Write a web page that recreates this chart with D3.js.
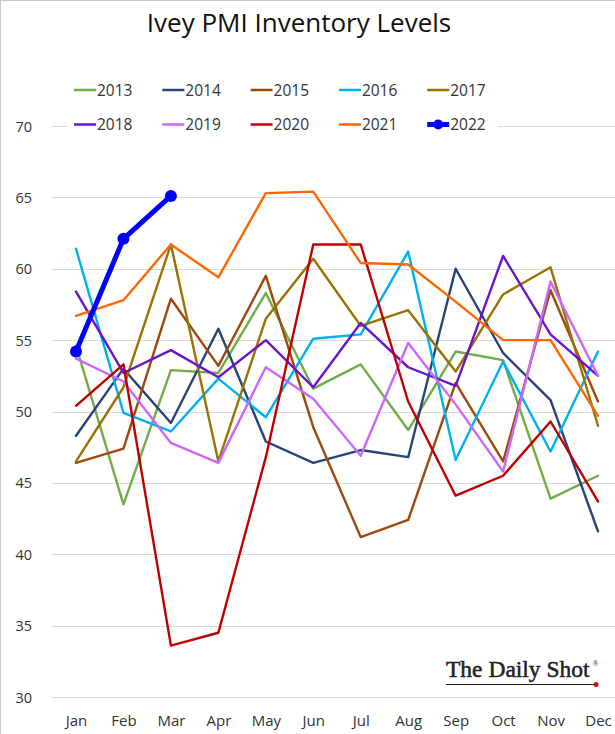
<!DOCTYPE html>
<html>
<head>
<meta charset="utf-8">
<script src="https://cdn.jsdelivr.net/npm/d3@7"></script>
<style>
  html, body { margin: 0; padding: 0; background: #fff; }
  svg { display: block; }
</style>
</head>
<body>
<svg id="chart" width="615" height="734"></svg>
<script>
const months = ["Jan","Feb","Mar","Apr","May","Jun","Jul","Aug","Sep","Oct","Nov","Dec"];
const yTicks = [30, 35, 40, 45, 50, 55, 60, 65, 70];
const years = ["2013","2014","2015","2016","2017","2018","2019","2020","2021","2022"];

const v2013 = [54.6, 43.5, 52.9, 52.7, 58.3, 51.6, 53.3, 48.7, 54.2, 53.6, 43.9, 45.5];
const v2014 = [48.3, 53.0, 49.2, 55.8, 47.9, 46.4, 47.3, 46.8, 60.0, 54.1, 50.8, 41.6];
const v2015 = [46.4, 47.4, 57.9, 53.2, 59.5, 48.9, 41.2, 42.4, 52.0, 46.5, 58.5, 50.7];
const v2016 = [61.4, 49.9, 48.6, 52.3, 49.6, 55.1, 55.4, 61.2, 46.6, 53.5, 47.2, 54.2];
const v2017 = [46.5, 51.7, 61.7, 46.5, 56.5, 60.7, 56.0, 57.1, 52.8, 58.2, 60.1, 49.0];
const v2018 = [58.4, 52.7, 54.3, 52.4, 55.0, 51.7, 56.2, 53.1, 51.8, 60.9, 55.4, 52.5];
const v2019 = [53.7, 52.1, 47.8, 46.4, 53.1, 50.9, 46.9, 54.8, 50.5, 45.8, 59.1, 52.5];
const v2020 = [50.4, 53.3, 33.6, 34.5, 46.8, 61.7, 61.7, 50.7, 44.1, 45.5, 49.3, 43.7];
const v2021 = [56.7, 57.8, 61.7, 59.4, 65.3, 65.4, 60.4, 60.3, 57.7, 55.0, 55.0, 49.7];
const v2022 = [54.2, 62.1, 65.1];

const seriesValues = [v2013, v2014, v2015, v2016, v2017, v2018, v2019, v2020, v2021, v2022];
const colors = ["#70ad47","#264478","#9e480e","#00b0f0","#997300","#6a14cc","#cc66ff","#c00000","#ff6600","#0000ff"];

const svg = d3.select("#chart");

// outer frame (left/top visible)
svg.append("rect").attr("x", 0.5).attr("y", 0.5).attr("width", 640).attr("height", 760)
  .attr("fill", "none").attr("stroke", "#c8c8c8").attr("stroke-width", 1);

const x = d3.scalePoint().domain(months).range([76, 598]);
const y = d3.scaleLinear().domain([30, 70]).range([697, 126]);

// gridlines
svg.append("g").selectAll("line").data(yTicks).join("line")
  .attr("x1", 52).attr("x2", 615)
  .attr("y1", d => Math.round(y(d)) + 0.5).attr("y2", d => Math.round(y(d)) + 0.5)
  .attr("stroke", "#d9d9d9").attr("stroke-width", 1);

// y axis labels
const yAxis = d3.axisLeft(y).tickValues(yTicks).tickSize(0).tickPadding(0);
const gy = svg.append("g").attr("transform", "translate(32,0)").call(yAxis);
gy.select(".domain").remove();
gy.selectAll("text").attr("font-family", "'Open Sans', sans-serif").attr("font-size", 14.5)
  .attr("fill", "#333").attr("dy", "0.35em");

// x axis labels
const xAxis = d3.axisBottom(x).tickSize(0).tickPadding(0);
const gx = svg.append("g").attr("transform", "translate(0,715)").call(xAxis);
gx.select(".domain").remove();
gx.selectAll("text").attr("font-family", "'Open Sans', sans-serif").attr("font-size", 15)
  .attr("fill", "#333").attr("dy", "0.72em");

// lines
const line = d3.line().x((d, i) => x(months[i])).y(d => y(d));
const gl = svg.append("g");
seriesValues.forEach((vals, k) => {
  const is22 = years[k] === "2022";
  gl.append("path").datum(vals).attr("d", line)
    .attr("fill", "none").attr("stroke", colors[k])
    .attr("stroke-width", is22 ? 5 : 2.4)
    .attr("stroke-linejoin", "round").attr("stroke-linecap", "round");
  if (is22) {
    gl.selectAll(null).data(vals).join("circle")
      .attr("cx", (d, i) => x(months[i])).attr("cy", d => y(d)).attr("r", 6)
      .attr("fill", colors[k]);
  }
});

// legend
const lg = svg.append("g");
lg.append("rect").attr("x", 68).attr("y", 74).attr("width", 430).attr("height", 66).attr("fill", "#fff");
years.forEach((yr, k) => {
  const col = k % 5, row = Math.floor(k / 5);
  const lx = 74 + col * 88.3, ly = row === 0 ? 90 : 124.5;
  const is22 = yr === "2022";
  lg.append("line").attr("x1", lx).attr("x2", lx + 22).attr("y1", ly).attr("y2", ly)
    .attr("stroke", colors[k]).attr("stroke-width", is22 ? 5 : 2.5);
  if (is22) lg.append("circle").attr("cx", lx + 11).attr("cy", ly).attr("r", 5).attr("fill", colors[k]);
  lg.append("text").attr("x", lx + 23).attr("y", ly).attr("dy", "0.36em")
    .attr("font-family", "'Open Sans', sans-serif").attr("font-size", 15.5).attr("fill", "#333")
    .text(yr);
});

// title
svg.append("text").attr("x", 299).attr("y", 32).attr("text-anchor", "middle")
  .attr("font-family", "'Open Sans', sans-serif").attr("font-size", 26).attr("fill", "#111")
  .text("Ivey PMI Inventory Levels");

// The Daily Shot mark
const logo = svg.append("g");
logo.append("text").attr("x", 446).attr("y", 677)
  .attr("font-family", "'Liberation Serif', 'DejaVu Serif', serif").attr("font-size", 23.5)
  .attr("fill", "#222").attr("stroke", "#222").attr("stroke-width", 0.5)
  .text("The Daily Shot");
logo.append("text").attr("x", 592.5).attr("y", 666)
  .attr("font-family", "'Liberation Serif', serif").attr("font-size", 8).attr("fill", "#222").text("®");
logo.append("line").attr("x1", 446).attr("x2", 594).attr("y1", 684.5).attr("y2", 684.5)
  .attr("stroke", "#222").attr("stroke-width", 1.2);
logo.append("circle").attr("cx", 596).attr("cy", 684.5).attr("r", 2.5).attr("fill", "#e00000");
</script>
</body>
</html>
